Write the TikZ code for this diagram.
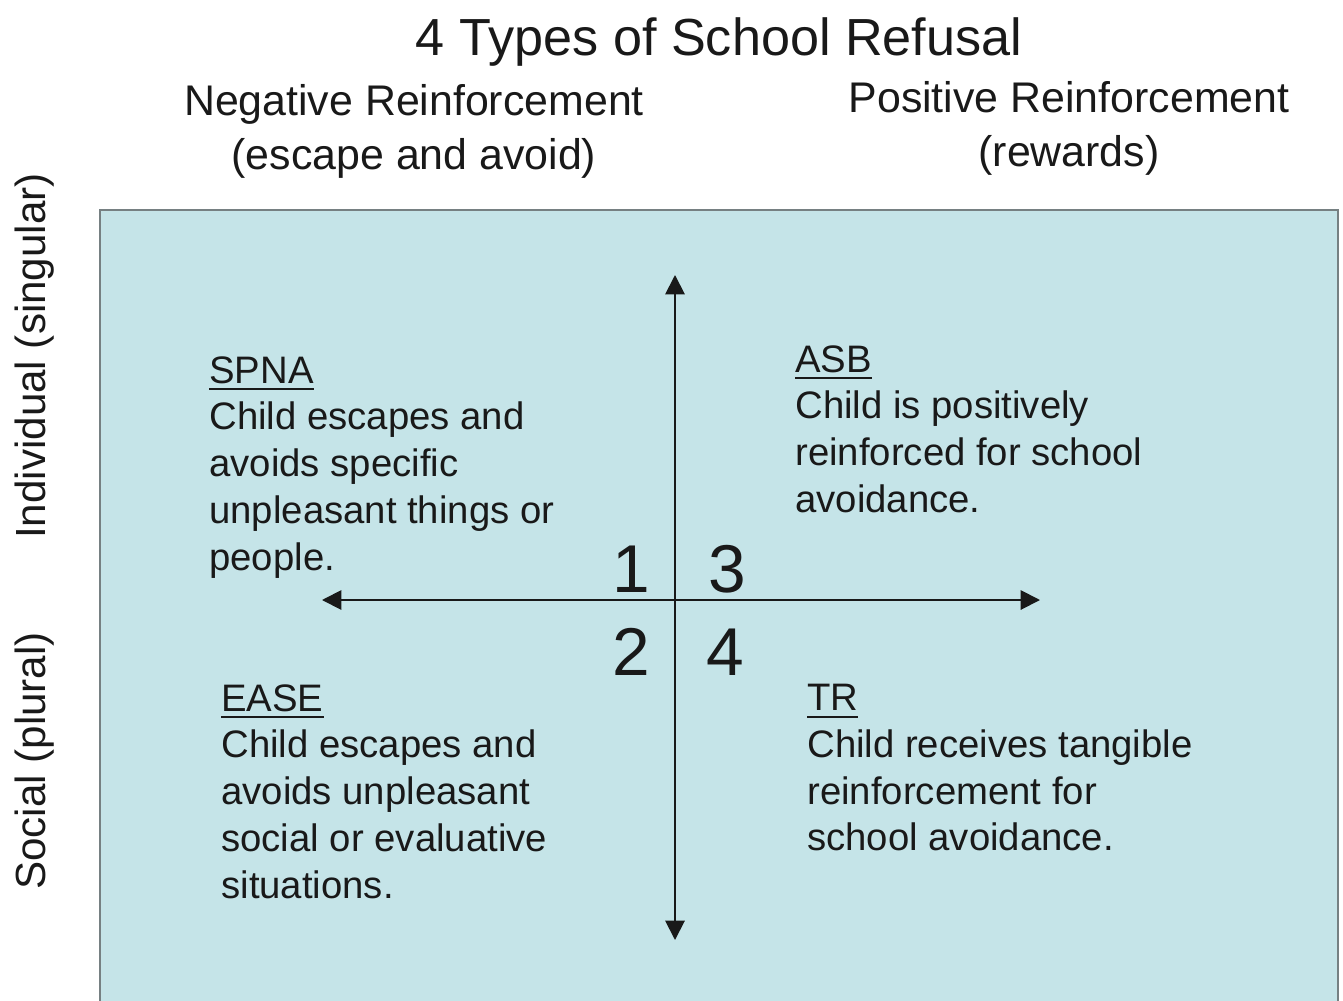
\documentclass[tikz,border=0pt]{standalone}
\usepackage{fontspec}
\setmainfont{Liberation Sans}
\usetikzlibrary{arrows.meta}
\definecolor{panel}{RGB}{197,228,232}
\definecolor{rim}{RGB}{118,128,130}
\definecolor{ink}{RGB}{25,25,25}
% underlined quadrant heading
\newcommand{\hdr}[1]{\setbox0\hbox{#1}\rlap{\rule[-4pt]{\wd0}{1.2pt}}\box0}

\begin{document}
\begin{tikzpicture}[x=0.02cm,y=-0.02cm,text=ink,
  heading/.style={font=\fontsize{24.4}{31}\selectfont, align=center, inner sep=0},
  side/.style={font=\fontsize{24}{28}\selectfont, rotate=90, anchor=base, inner sep=0},
  quad/.style={font=\fontsize{21.8}{26.6}\selectfont, align=left, anchor=north west, inner sep=0},
  digit/.style={font=\fontsize{38.5}{42}\selectfont, anchor=base, inner sep=0},
  axis/.style={line width=1.1pt, draw=ink,
    {Triangle[length=11pt,width=11pt]}-{Triangle[length=11pt,width=11pt]}}]
\useasboundingbox (0,0) rectangle (1343,1001);

% background panel, open at the bottom
\fill[panel] (100,210) rectangle (1338,1030);
\draw[rim, line width=1.5pt] (100,1030) -- (100,210) -- (1338,210) -- (1338,1030);

% titles
\node[font=\fontsize{29.7}{34}\selectfont, anchor=base, inner sep=0] (title) at (719,55) {4 Types of School Refusal};
\node[heading, anchor=north] (neg) at (414,84) {Negative Reinforcement\\(escape and avoid)};
\node[heading, anchor=north] (pos) at (1069,81) {Positive Reinforcement\\(rewards)};
\node[side] (indiv) at (45,356) {Individual (singular)};
\node[side] (soc) at (45,761) {Social (plural)};

% the two axes
\coordinate (up) at (675,275);
\coordinate (down) at (675,940);
\coordinate (west) at (322,600);
\coordinate (east) at (1040,600);
\draw[axis] (down) -- (up);
\draw[axis] (west) -- (east);

% quadrant numbers
\node[digit] (one) at (631,592) {1};
\node[digit] (three) at (727,592) {3};
\node[digit] (two) at (631,675) {2};
\node[digit] (four) at (725,675) {4};

% quadrant texts
\node[quad] (spna) at (209,356) {\hdr{SPNA}\\Child escapes and\\avoids specific\\unpleasant things or\\people.};
\node[quad] (asb) at (795,345) {\hdr{ASB}\\Child is positively\\reinforced for school\\avoidance.};
\node[quad] (ease) at (221,684) {\hdr{EASE}\\Child escapes and\\avoids unpleasant\\social or evaluative\\situations.};
\node[quad] (tr) at (807,684) {\hdr{TR}\\Child receives tangible\\reinforcement for\\school avoidance.};
\end{tikzpicture}
\end{document}
